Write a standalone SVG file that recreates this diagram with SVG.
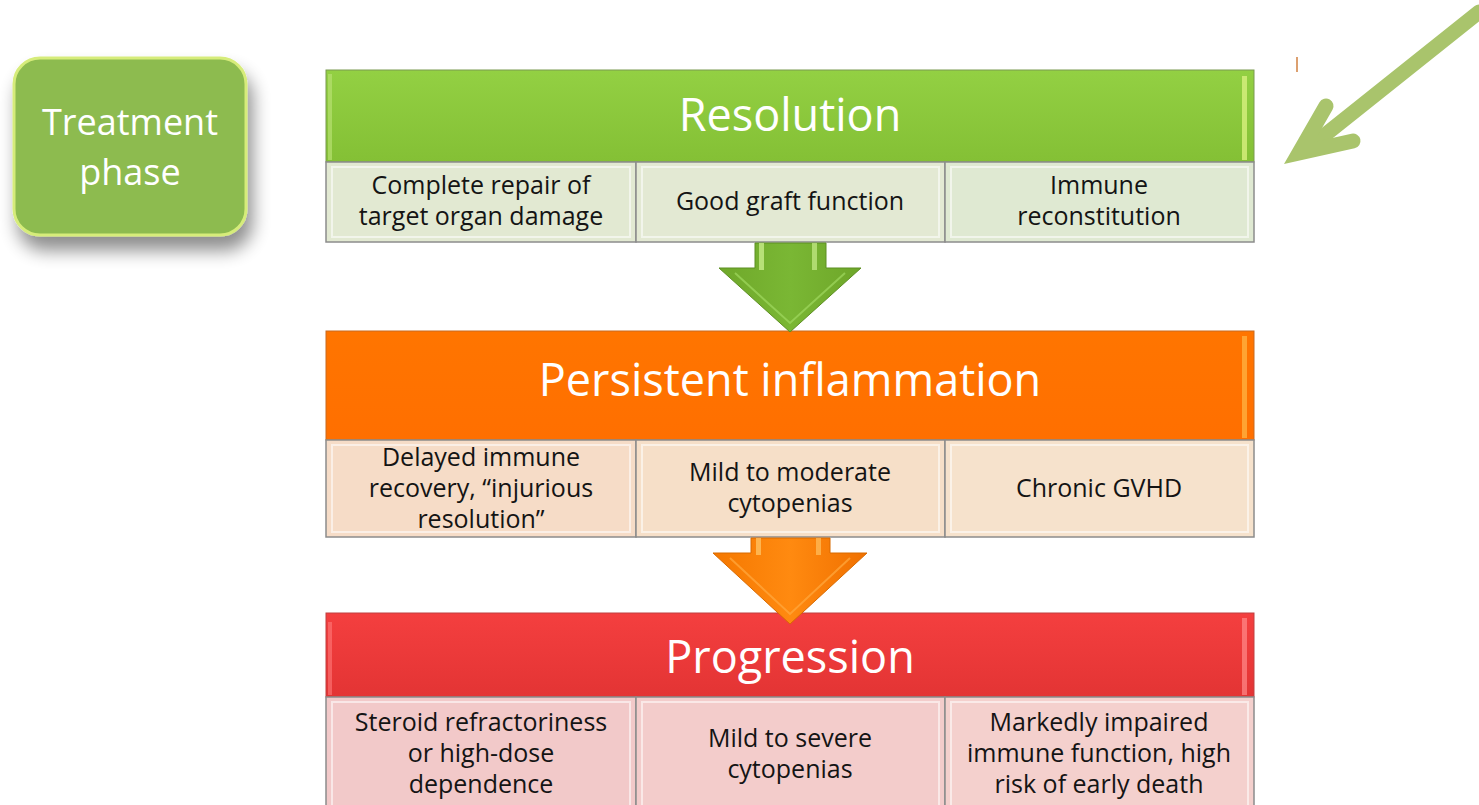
<svg xmlns="http://www.w3.org/2000/svg" width="1479" height="805" viewBox="0 0 1479 805">
<defs>
<style>
.hd{font-family:"Open Sans","Noto Sans",sans-serif;fill:#ffffff;font-size:45px;text-anchor:middle}
.tp{font-family:"Open Sans","Noto Sans",sans-serif;fill:#ffffff;font-size:36px;text-anchor:middle}
.ct{font-family:"Open Sans","Noto Sans",sans-serif;fill:#141414;font-size:25px;text-anchor:middle}
.cell{stroke:#8c8c8c;stroke-width:1.5}
.bev{fill:none;stroke:#ffffff;stroke-opacity:0.55;stroke-width:2}
</style>
<linearGradient id="gG" x1="0" y1="0" x2="0" y2="1"><stop offset="0" stop-color="#93d043"/><stop offset="1" stop-color="#84c035"/></linearGradient>
<linearGradient id="gO" x1="0" y1="0" x2="0" y2="1"><stop offset="0" stop-color="#ff7500"/><stop offset="1" stop-color="#ff6f00"/></linearGradient>
<linearGradient id="gR" x1="0" y1="0" x2="0" y2="1"><stop offset="0" stop-color="#f43f3f"/><stop offset="1" stop-color="#e33434"/></linearGradient>
<linearGradient id="gArrG" x1="0" y1="0" x2="1" y2="0"><stop offset="0" stop-color="#6fa82a"/><stop offset="0.5" stop-color="#7ab734"/><stop offset="1" stop-color="#6ea629"/></linearGradient>
<linearGradient id="gArrO" x1="0" y1="0" x2="1" y2="0"><stop offset="0" stop-color="#f57800"/><stop offset="0.5" stop-color="#ff8a10"/><stop offset="1" stop-color="#f07000"/></linearGradient>
<filter id="sh" x="-30%" y="-30%" width="160%" height="180%"><feGaussianBlur in="SourceAlpha" stdDeviation="9"/><feOffset dx="5" dy="14"/><feComponentTransfer><feFuncA type="linear" slope="0.45"/></feComponentTransfer><feMerge><feMergeNode/><feMergeNode in="SourceGraphic"/></feMerge></filter>
</defs>
<rect width="1479" height="805" fill="#ffffff"/>

<g id="treatment-phase">
<rect x="14" y="58" width="232" height="177" rx="26" fill="#8dbb50" stroke="#d6ec7a" stroke-width="3" filter="url(#sh)"/>
<text class="tp" x="130" y="135">Treatment</text>
<text class="tp" x="130" y="185">phase</text>
</g>

<g id="resolution">
<rect x="326" y="70" width="928" height="92" fill="url(#gG)" stroke="#7a9a50" stroke-width="1"/>
<rect x="1242" y="76" width="5" height="84" fill="#d8f080" opacity="0.8"/>
<rect x="328" y="74" width="4" height="86" fill="#b6e070" opacity="0.7"/>
<text class="hd" x="790" y="131">Resolution</text>
<rect class="cell" x="326" y="162" width="310" height="80" fill="#e2e9d2"/>
<rect class="bev" x="332" y="167" width="298" height="70"/>
<rect class="cell" x="636" y="162" width="309" height="80" fill="#e3e9d3"/>
<rect class="bev" x="642" y="167" width="297" height="70"/>
<rect class="cell" x="945" y="162" width="309" height="80" fill="#dfe9d2"/>
<rect class="bev" x="951" y="167" width="297" height="70"/>
<text class="ct" x="481" y="194">Complete repair of</text>
<text class="ct" x="481" y="225">target organ damage</text>
<text class="ct" x="790" y="210">Good graft function</text>
<text class="ct" x="1099" y="194">Immune</text>
<text class="ct" x="1099" y="225">reconstitution</text>
</g>

<g id="persistent-inflammation">
<rect x="326" y="331" width="928" height="109" fill="url(#gO)" stroke="#c86a20" stroke-width="1"/>
<rect x="1242" y="336" width="5" height="102" fill="#ffb040" opacity="0.8"/>
<text class="hd" x="790" y="396">Persistent inflammation</text>
<rect class="cell" x="326" y="440" width="310" height="97" fill="#f6dcc7"/>
<rect class="bev" x="332" y="445" width="298" height="87"/>
<rect class="cell" x="636" y="440" width="309" height="97" fill="#f6dfc8"/>
<rect class="bev" x="642" y="445" width="297" height="87"/>
<rect class="cell" x="945" y="440" width="309" height="97" fill="#f6e2cc"/>
<rect class="bev" x="951" y="445" width="297" height="87"/>
<text class="ct" x="481" y="466">Delayed immune</text>
<text class="ct" x="481" y="497">recovery, “injurious</text>
<text class="ct" x="481" y="528">resolution”</text>
<text class="ct" x="790" y="481">Mild to moderate</text>
<text class="ct" x="790" y="512">cytopenias</text>
<text class="ct" x="1099" y="497">Chronic GVHD</text>
</g>

<g id="progression">
<rect x="326" y="613" width="928" height="84" fill="url(#gR)" stroke="#c04040" stroke-width="1"/>
<rect x="1242" y="618" width="5" height="77" fill="#ff8a8a" opacity="0.7"/>
<rect x="328" y="622" width="4" height="73" fill="#ff7a7a" opacity="0.6"/>
<text class="hd" x="790" y="673">Progression</text>
<rect class="cell" x="326" y="697" width="310" height="112" fill="#f2c9c9"/>
<rect class="bev" x="332" y="702" width="298" height="110"/>
<rect class="cell" x="636" y="697" width="309" height="112" fill="#f3cccb"/>
<rect class="bev" x="642" y="702" width="297" height="110"/>
<rect class="cell" x="945" y="697" width="309" height="112" fill="#f4d0cd"/>
<rect class="bev" x="951" y="702" width="297" height="110"/>
<text class="ct" x="481" y="731">Steroid refractoriness</text>
<text class="ct" x="481" y="762">or high-dose</text>
<text class="ct" x="481" y="793">dependence</text>
<text class="ct" x="790" y="747">Mild to severe</text>
<text class="ct" x="790" y="778">cytopenias</text>
<text class="ct" x="1099" y="731">Markedly impaired</text>
<text class="ct" x="1099" y="762">immune function, high</text>
<text class="ct" x="1099" y="793">risk of early death</text>
</g>

<g id="connectors">
<path d="M755,243 L826,243 L826,268 L861,268 L790,332 L719,268 L755,268 Z" fill="url(#gArrG)" stroke="#5d8f22" stroke-width="1"/>
<path d="M759,243 L764,243 L764,270 L759,270 Z" fill="#c8ec8a" opacity="0.8"/>
<path d="M812,243 L817,243 L817,270 L812,270 Z" fill="#c8ec8a" opacity="0.7"/>
<path d="M735,273 L790,323 L845,273" fill="none" stroke="#9fd860" stroke-width="2" opacity="0.7"/>
<path d="M751,538 L830,538 L830,553 L867,553 L790,624 L713,553 L751,553 Z" fill="url(#gArrO)" stroke="#d86a00" stroke-width="1"/>
<path d="M756,538 L761,538 L761,555 L756,555 Z" fill="#ffc060" opacity="0.8"/>
<path d="M816,538 L821,538 L821,555 L816,555 Z" fill="#ffc060" opacity="0.7"/>
<path d="M730,558 L790,614 L850,558" fill="none" stroke="#ffaa40" stroke-width="2" opacity="0.7"/>
<path d="M1479,12 L1306,150" fill="none" stroke="#a9c46c" stroke-width="15" stroke-linecap="round"/>
<path d="M1326,106 L1299,153 L1353,141" fill="none" stroke="#a9c46c" stroke-width="15" stroke-linecap="round" stroke-linejoin="miter"/>
<path d="M1297,57 L1297,72" stroke="#d08040" stroke-width="1.5"/>
</g>
</svg>
